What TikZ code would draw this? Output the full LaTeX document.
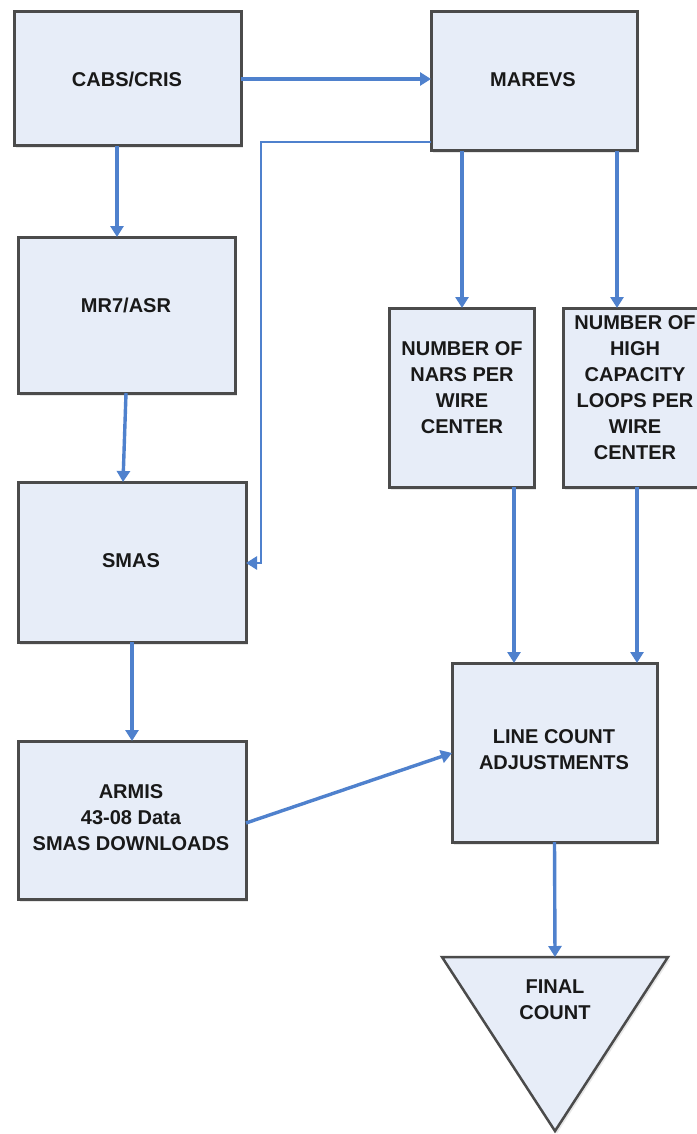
\documentclass[tikz,border=0pt]{standalone}
\usepackage{fontspec}
\setmainfont{Liberation Sans}
\usetikzlibrary{arrows.meta,shadows}
\definecolor{boxfill}{RGB}{231,237,248}
\definecolor{boxline}{RGB}{75,75,75}
\definecolor{arrowblue}{RGB}{79,129,205}
\begin{document}
\begin{tikzpicture}[x=1pt,y=-1pt,
  box/.style={draw=boxline, fill=boxfill, line width=3pt, inner sep=0pt, outer sep=0pt, anchor=north west,
    drop shadow={shadow xshift=2pt,shadow yshift=-2.5pt,fill=black!18}},
  lbl/.style={font=\fontsize{20}{26}\selectfont\bfseries, align=center, inner sep=0pt, text=black!90},
  arr/.style={draw=arrowblue, line width=3.4pt, -{Triangle[length=11pt,width=13pt]}},
  thinarr/.style={arr, line width=2.6pt}]
\useasboundingbox (0,0) rectangle (696,1134);
\fill[white] (0,0) rectangle (696,1134);

% boxes
\node[box, minimum width=227pt, minimum height=134pt] (cabs) at (14,12) {};
\node[box, minimum width=206pt, minimum height=139pt] (marevs) at (431,12) {};
\node[box, minimum width=217pt, minimum height=156pt] (mr7) at (18,237) {};
\node[box, minimum width=228pt, minimum height=160pt] (smas) at (18,482) {};
\node[box, minimum width=228pt, minimum height=158pt] (armis) at (18,741) {};
\node[box, minimum width=145pt, minimum height=179pt] (nars) at (389,308) {};
\node[box, minimum width=144pt, minimum height=179pt] (high) at (563,308) {};
\node[box, minimum width=205pt, minimum height=179pt] (lca) at (452,663) {};
\filldraw[draw=boxline, fill=boxfill, line width=2.5pt, line join=miter,
  drop shadow={shadow xshift=2pt,shadow yshift=-2.5pt,fill=black!18}]
  (442,957) -- (668,957) -- (555,1131) -- cycle;
\coordinate (ftop) at (555,957);

% labels
\node[lbl] (cabst) at (127,79) {CABS/CRIS};
\node[lbl] (marevst) at (533,80) {MAREVS};
\node[lbl] (mr7t) at (126,305) {MR7/ASR};
\node[lbl] (smast) at (131,561) {SMAS};
\node[lbl] (armist) at (131,818) {ARMIS\\43-08 Data\\SMAS DOWNLOADS};
\node[lbl] (narst) at (462,388) {NUMBER OF\\NARS PER\\WIRE\\CENTER};
\node[lbl] (hight) at (635,388) {NUMBER OF\\HIGH\\CAPACITY\\LOOPS PER\\WIRE\\CENTER};
\node[lbl] (lcat) at (554,750) {LINE COUNT\\ADJUSTMENTS};
\node[lbl] (finalt) at (555,1000) {FINAL\\COUNT};

% helper coordinates
\coordinate (xa) at (117,0);
\coordinate (xb) at (126,0);
\coordinate (xc) at (123,0);
\coordinate (xd) at (132,0);
\coordinate (xe) at (462,0);
\coordinate (xf) at (617,0);
\coordinate (xg) at (514,0);
\coordinate (xh) at (637,0);
\coordinate (ya) at (0,823);
\coordinate (yb) at (0,753);
\coordinate (elbowtop) at (261,142);
\coordinate (elbowbot) at (261,563);

% connectors
\draw[arr] (cabs.east) -- (cabs.east -| marevs.west);
\draw[arr] (xa |- cabs.south) -- (xa |- mr7.north);
\draw[arr] (xb |- mr7.south) -- (xc |- smas.north);
\draw[thinarr] (marevs.west |- elbowtop) -- (elbowtop) -- (elbowbot) -- (elbowbot -| smas.east);
\draw[arr] (xd |- smas.south) -- (xd |- armis.north);
\draw[arr] (armis.east |- ya) -- (lca.west |- yb);
\draw[arr] (xe |- marevs.south) -- (xe |- nars.north);
\draw[arr] (xf |- marevs.south) -- (xf |- high.north);
\draw[arr] (xg |- nars.south) -- (xg |- lca.north);
\draw[arr] (xh |- high.south) -- (xh |- lca.north);
\draw[arr] (lca.south) -- (ftop);
\end{tikzpicture}
\end{document}
